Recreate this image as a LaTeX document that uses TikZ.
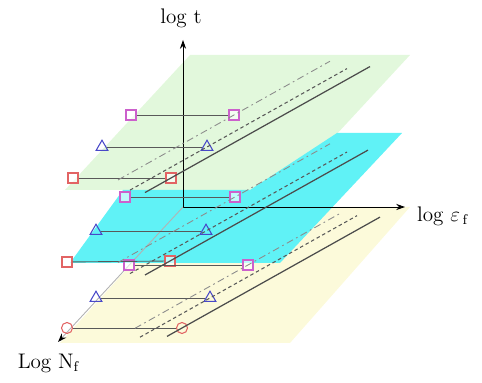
\documentclass[tikz,border=0pt]{standalone}
\usepackage{amsmath,amssymb}
\usepackage{xcolor}
\usepackage{tikz}
\usetikzlibrary{shapes.geometric, arrows.meta, calc}

\definecolor{plgreen}{RGB}{226,248,220}
\definecolor{plcyan}{RGB}{96,242,246}
\definecolor{plyellow}{RGB}{252,250,218}
\definecolor{mkmag}{RGB}{204,96,204}
\definecolor{mkblue}{RGB}{72,72,200}
\definecolor{mkred}{RGB}{226,100,100}

\begin{document}
\begin{tikzpicture}[
  sq/.style    = {draw=mkmag, rectangle, minimum size=0.2cm, inner sep=0pt,
                  fill=white, fill opacity=0.6, line width=0.6pt},
  tri/.style   = {draw=mkblue, regular polygon, regular polygon sides=3,
                  minimum size=0.27cm, inner sep=0pt, line width=0.6pt},
  rsq/.style   = {draw=mkred, rectangle, minimum size=0.2cm, inner sep=0pt,
                  fill=white, fill opacity=0.6, line width=0.6pt},
  rci/.style   = {draw=mkred, circle, minimum size=0.22cm, inner sep=0pt,
                  line width=0.6pt},
  axis/.style  = {-{Stealth[length=5pt, width=3.5pt]}, line width=0.5pt},
  link/.style  = {black!65, line width=0.5pt},
  solidln/.style = {black!70, line width=0.7pt},
  dashln/.style  = {black!65, line width=0.6pt, dash pattern=on 2pt off 1.6pt},
  looseln/.style = {black!45, line width=0.5pt,
                    dash pattern=on 4pt off 2pt on 1pt off 2pt},
  lbl/.style   = {font=\large, inner sep=1pt},
]
\useasboundingbox (0,0) rectangle (9.64,7.66);

% ── Planes ────────────────────────────────────────────────────────────────────
\fill[plgreen]  (3.80,6.56) -- (8.20,6.56) -- (5.70,3.86) -- (1.30,3.86) -- cycle;
\fill[plyellow] (3.66,3.52) -- (8.20,3.52) -- (5.80,0.80) -- (1.20,0.80) -- cycle;
\fill[plcyan]   (1.40,2.40) -- (2.46,3.86) -- (5.00,3.86) -- (6.74,5.00)
                -- (8.04,5.00) -- (5.60,2.40) -- cycle;

% ── Axes ──────────────────────────────────────────────────────────────────────
\coordinate (O)    at (3.66,3.52);
\coordinate (ttip) at (3.66,6.86);
\coordinate (etip) at (8.10,3.52);
\coordinate (ntip) at (1.16,0.82);

\draw[axis] (O) -- (ttip);
\draw[axis] (O) -- (etip);
\draw[axis, black!30, -{Stealth[length=5pt, width=3.5pt, black]}] (O) -- (ntip);

\node[lbl] (tlab) at (3.62,7.30) {log t};
\node[lbl, anchor=west] (elab) at (8.30,3.34) {log $\varepsilon_{\,\mathrm{f}}$};
\node[lbl] (nlab) at (0.98,0.40) {Log N$_{\mathrm{f}}$};

% ── Markers (t = top, m = middle, b = bottom plane) ───────────────────────────
\foreach \n/\xa/\xb/\y in {t/2.62/4.68/5.36, m/2.50/4.70/3.72, b/2.58/4.96/2.36} {
  \node[sq] (M\n-l) at (\xa,\y) {};
  \node[sq] (M\n-r) at (\xb,\y) {};
}
\foreach \n/\xa/\xb/\y in {t/2.04/4.14/4.72, m/1.92/4.12/3.04, b/1.92/4.20/1.70} {
  \node[tri] (B\n-l) at (\xa,\y) {};
  \node[tri] (B\n-r) at (\xb,\y) {};
}
\node[rsq] (Rt-l) at (1.46,4.10) {};
\node[rsq] (Rt-r) at (3.42,4.10) {};
\node[rsq] (Rm-l) at (1.34,2.42) {};
\node[rsq] (Rm-r) at (3.40,2.44) {};
\node[rci] (Rb-l) at (1.34,1.10) {};
\node[rci] (Rb-r) at (3.64,1.10) {};

% ── Horizontal links ──────────────────────────────────────────────────────────
\foreach \n in {t,m,b} {
  \draw[link] (M\n-l) -- (M\n-r);
  \draw[link] (B\n-l) -- (B\n-r);
  \draw[link] (R\n-l) -- (R\n-r);
}

% ── Diagonal curves through the right markers (slope 0.56) ────────────────────
\foreach \n/\a/\b in {t/-2.32/1.92, m/-2.34/1.90, b/-2.26/1.84}
  \draw[looseln] (M\n-r) ++({\a},{0.56*\a}) -- ++({\b-\a},{0.56*(\b-\a)});
\foreach \n/\a/\b in {t/-1.54/2.80, m/-1.52/2.82, b/-1.40/2.94}
  \draw[dashln] (B\n-r) ++({\a},{0.56*\a}) -- ++({\b-\a},{0.56*(\b-\a)});
\foreach \n/\a/\b in {t/-0.52/3.98, m/-0.50/3.96, b/-0.30/3.96}
  \draw[solidln] (R\n-r) ++({\a},{0.56*\a}) -- ++({\b-\a},{0.56*(\b-\a)});

\end{tikzpicture}
\end{document}
